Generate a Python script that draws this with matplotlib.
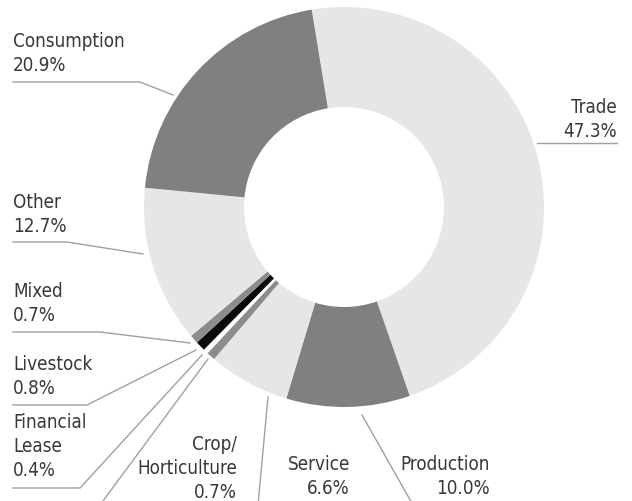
import matplotlib
matplotlib.use("Agg")
import matplotlib.pyplot as plt

# ---- data ----
categories = ["Trade", "Production", "Service", "Crop/\nHorticulture", "Financial\nLease",
              "Livestock", "Mixed", "Other", "Consumption"]
shares = [47.3, 10.0, 6.6, 0.7, 0.4, 0.8, 0.7, 12.7, 20.9]
share_labels = ["47.3%", "10.0%", "6.6%", "0.7%", "0.4%", "0.8%", "0.7%", "12.7%", "20.9%"]

# ---- style / layout ----
colors = ["#e6e6e6", "#808080", "#e6e6e6", "#8c8c8c", "#ffffff",
          "#0a0a0a", "#8c8c8c", "#e6e6e6", "#808080"]
W, H = 632, 501
CX, CY, R = 344, 207, 200

# label layout in pixel coords (x, first-baseline y, alignment)
label_pos = {
    "Trade": (617, 113, "right"),
    "Production": (490, 470, "right"),
    "Service": (350, 470, "right"),
    "Crop/\nHorticulture": (237, 450, "right"),
    "Financial\nLease": (13, 428, "left"),
    "Livestock": (13, 370, "left"),
    "Mixed": (13, 297, "left"),
    "Other": (13, 208, "left"),
    "Consumption": (13, 47, "left"),
}
leaders = {
    "Trade": [(617, 143), (537, 143)],
    "Production": [(413, 505), (362, 415)],
    "Service": [(258, 505), (268, 397)],
    "Crop/\nHorticulture": [(100, 505), (208, 359)],
    "Financial\nLease": [(13, 488), (80, 488), (202, 355)],
    "Livestock": [(13, 405), (87, 405), (196, 350)],
    "Mixed": [(13, 332), (100, 332), (190, 343)],
    "Other": [(13, 242), (67, 242), (143, 254)],
    "Consumption": [(13, 82), (140, 82), (173, 95)],
}
LINE_STEP = 24
txt_kw = dict(family="DejaVu Sans", stretch="condensed", fontsize=13.5, color="#383838")

fig = plt.figure(figsize=(W / 100, H / 100), dpi=100)
ax = fig.add_axes([0, 0, 1, 1])
ax.pie(shares, colors=colors, startangle=99.3, counterclock=False,
       radius=R, center=(CX, H - CY),
       wedgeprops=dict(width=R / 2, linewidth=0, edgecolor="none"))
ax.set_xlim(0, W)
ax.set_ylim(0, H)
ax.set_aspect("equal")
ax.axis("off")

for cat, pct in zip(categories, share_labels):
    x, y, ha = label_pos[cat]
    lines = cat.split("\n") + [pct]
    for i, ln in enumerate(lines):
        ax.text(x, H - (y + i * LINE_STEP), ln, ha=ha, va="baseline", **txt_kw)
    pts = leaders[cat]
    ax.plot([p[0] for p in pts], [H - p[1] for p in pts], color="#a0a0a0",
            lw=1.0, clip_on=True, solid_joinstyle="miter")

fig.savefig("out.png", dpi=100)
